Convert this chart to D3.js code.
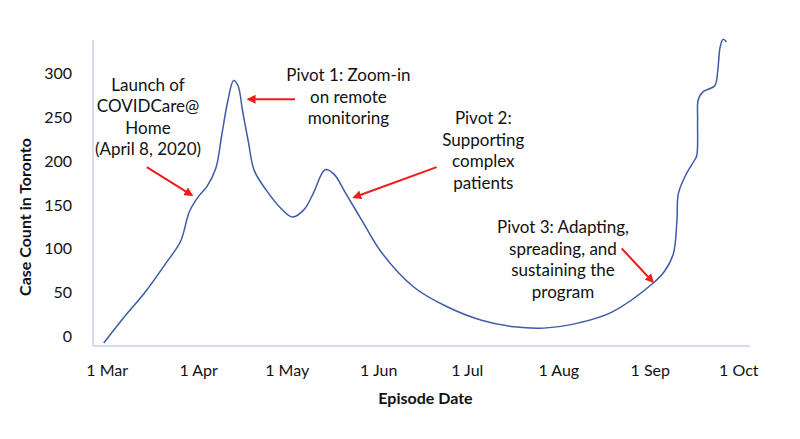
<!DOCTYPE html>
<html>
<head>
<meta charset="utf-8">
<script src="https://cdn.jsdelivr.net/npm/d3@7"></script>
<style>
  body { margin: 0; background: #fff; }
  text { font-family: Lato, "Open Sans", sans-serif; fill: #111; }
</style>
</head>
<body>
<script>
// chart size
var w = 800;
var h = 439;

// Episode dates (with hour, a few points fall inside a day) and case counts
var dates = [
  "2020-02-29 00", "2020-03-07 00", "2020-03-14 00", "2020-03-21 00", "2020-03-26 00",
  "2020-03-29 00", "2020-04-01 00", "2020-04-04 00", "2020-04-07 00", "2020-04-09 00",
  "2020-04-11 00", "2020-04-13 00", "2020-04-14 12", "2020-04-16 00", "2020-04-18 00",
  "2020-04-20 00", "2020-04-24 00", "2020-04-29 00", "2020-05-03 00", "2020-05-07 00",
  "2020-05-10 00", "2020-05-14 00", "2020-05-17 00", "2020-05-21 00", "2020-05-27 00",
  "2020-06-02 00", "2020-06-13 00", "2020-06-24 00", "2020-07-06 00", "2020-07-17 00",
  "2020-07-27 00", "2020-08-08 00", "2020-08-19 00", "2020-09-02 00", "2020-09-06 00",
  "2020-09-09 00", "2020-09-10 05", "2020-09-10 17", "2020-09-13 12", "2020-09-16 00",
  "2020-09-16 22", "2020-09-17 05", "2020-09-17 10", "2020-09-19 00", "2020-09-23 00",
  "2020-09-24 00", "2020-09-24 20", "2020-09-25 20", "2020-09-27 00"
];
var cases = [
  0, 30, 58, 91, 116,
  150, 167, 179, 200, 238,
  276, 300, 294, 266, 230,
  197, 175, 154, 144, 153,
  171, 198, 193, 171, 137,
  104, 64, 42, 26, 18.5,
  17, 23, 35, 68, 82,
  102, 140, 171, 194, 208,
  214, 255, 278, 287, 294,
  310, 338, 347, 344
];

// axis ticks
var tickDates = ["2020-03-01", "2020-04-01", "2020-05-01", "2020-06-01",
                 "2020-07-01", "2020-08-01", "2020-09-01", "2020-10-01"];
var yTicks = [0, 50, 100, 150, 200, 250, 300];

// annotations: [day after 1 Mar, case count] for text and arrows
var notes = [
  { lines: ["Launch of", "COVIDCare@", "Home", "(April 8, 2020)"],
    at: [14.0, 295], from: [13.6, 201], to: [28.8, 169] },
  { lines: ["Pivot 1: Zoom-in", "on remote", "monitoring"],
    at: [81.9, 306], from: [63.8, 278.5], to: [48.0, 278.5] },
  { lines: ["Pivot 2:", "Supporting", "complex", "patients"],
    at: [127.6, 257], from: [111.8, 201], to: [83.8, 166.5] },
  { lines: ["Pivot 3: Adapting,", "spreading, and", "sustaining the", "program"],
    at: [154.6, 132], from: [174.5, 108], to: [185, 70] }
];

var parseHour = d3.timeParse("%Y-%m-%d %H");
var parseDay = d3.timeParse("%Y-%m-%d");

var data = dates.map(function(d, i) {
  return { date: parseHour(d), value: cases[i] };
});

var start = parseDay("2020-03-01");
function dayToDate(n) { return new Date(start.getTime() + n * 864e5); }

var x = d3.scaleTime()
    .domain([start, parseDay("2020-10-01")])
    .range([106.7, 738.3]);

var y = d3.scaleLinear()
    .domain([0, 300])
    .range([343, 80.5]);

var svg = d3.select("body")
    .append("svg")
    .attr("width", w)
    .attr("height", h);

// frame lines of the plot area
var frameColor = "#c8d0e8";
svg.append("line")
    .attr("x1", 93).attr("x2", 93)
    .attr("y1", 40).attr("y2", 346)
    .attr("stroke", frameColor).attr("stroke-width", 1.5);
svg.append("line")
    .attr("x1", 93).attr("x2", 750)
    .attr("y1", 346).attr("y2", 346)
    .attr("stroke", frameColor).attr("stroke-width", 1.5);

// x axis, labels only
var xAxis = svg.append("g")
    .attr("transform", "translate(0,362)")
    .call(d3.axisBottom(x)
        .tickValues(tickDates.map(parseDay))
        .tickFormat(d3.timeFormat("%-d %b"))
        .tickSize(0));
xAxis.select(".domain").remove();
xAxis.selectAll("text")
    .attr("font-size", "16px")
    .attr("font-family", "Lato, sans-serif")
    .attr("fill", "#111");

// y axis, labels only
var yAxis = svg.append("g")
    .attr("transform", "translate(93,0)")
    .call(d3.axisLeft(y)
        .tickValues(yTicks)
        .tickSize(0)
        .tickPadding(21));
yAxis.select(".domain").remove();
yAxis.selectAll("text")
    .attr("font-size", "16px")
    .attr("font-family", "Lato, sans-serif")
    .attr("fill", "#111")
    .attr("dy", "-0.1em");

// axis titles
svg.append("text")
    .attr("x", 425.5)
    .attr("y", 404)
    .attr("text-anchor", "middle")
    .attr("font-size", "16px")
    .attr("font-weight", "bold")
    .text("Episode Date");

svg.append("text")
    .attr("transform", "translate(31,217) rotate(-90)")
    .attr("text-anchor", "middle")
    .attr("font-size", "16px")
    .attr("font-weight", "bold")
    .text("Case Count in Toronto");

// case line, smoothed through the points
var line = d3.line()
    .x(function(d) { return x(d.date); })
    .y(function(d) { return y(d.value); })
    .curve(d3.curveCatmullRom.alpha(0.5));

svg.append("path")
    .datum(data)
    .attr("d", line)
    .attr("fill", "none")
    .attr("stroke", "#3d5ba6")
    .attr("stroke-width", 1.5);

// red arrow head
svg.append("defs").append("marker")
    .attr("id", "arrow")
    .attr("viewBox", "0 0 10 10")
    .attr("refX", 8).attr("refY", 5)
    .attr("markerWidth", 4.5).attr("markerHeight", 4.5)
    .attr("orient", "auto")
    .append("path")
    .attr("d", "M0,0 L10,5 L0,10 Z")
    .attr("fill", "#ee1c1c");

notes.forEach(function(n) {
  var t = svg.append("text")
      .attr("text-anchor", "middle")
      .attr("font-size", "17px");
  n.lines.forEach(function(s, i) {
    t.append("tspan")
        .attr("x", x(dayToDate(n.at[0])))
        .attr("y", y(n.at[1]) + i * 21.5)
        .attr("dy", "0.35em")
        .text(s);
  });
  svg.append("line")
      .attr("x1", x(dayToDate(n.from[0])))
      .attr("y1", y(n.from[1]))
      .attr("x2", x(dayToDate(n.to[0])))
      .attr("y2", y(n.to[1]))
      .attr("stroke", "#ee1c1c")
      .attr("stroke-width", 2)
      .attr("marker-end", "url(#arrow)");
});
</script>
</body>
</html>
